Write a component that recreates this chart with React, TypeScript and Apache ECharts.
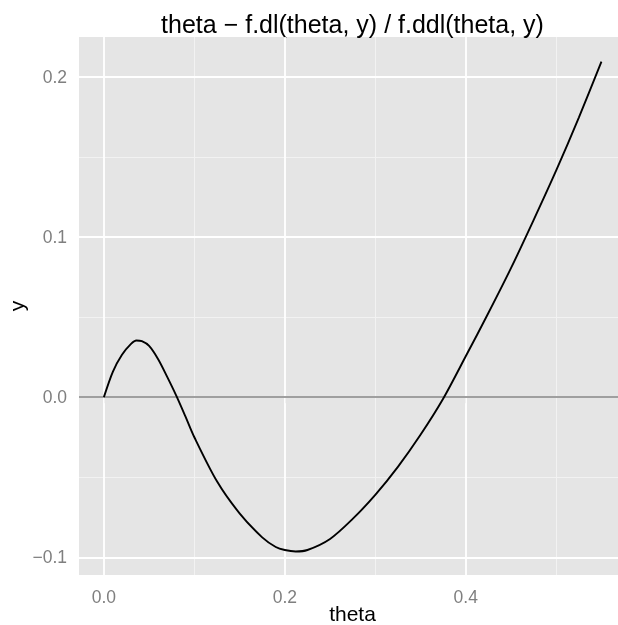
import React, { useEffect, useRef } from "react";
import * as echarts from "echarts";

const thetaValues = [
  0, 0.01, 0.02, 0.03, 0.036, 0.042, 0.05, 0.06, 0.07, 0.08, 0.09, 0.1, 0.125,
  0.15, 0.175, 0.19, 0.2, 0.212, 0.225, 0.25, 0.275, 0.3, 0.325, 0.35, 0.375,
  0.4, 0.425, 0.45, 0.475, 0.5, 0.525, 0.55,
];
const yValues = [
  0, 0.016, 0.0265, 0.0333, 0.0354, 0.0349, 0.032, 0.0237, 0.0127, 0.001,
  -0.0118, -0.025, -0.0525, -0.0725, -0.0875, -0.0935, -0.0954, -0.0963,
  -0.0954, -0.0885, -0.076, -0.061, -0.0435, -0.0235, -0.001, 0.0255, 0.0525,
  0.0805, 0.1105, 0.1415, 0.1745, 0.2094,
];
const xTickValues = [0, 0.2, 0.4];
const xMinorValues = [0.1, 0.3, 0.5];
const yTickValues = [-0.1, 0, 0.1, 0.2];
const yMinorValues = [-0.05, 0.05, 0.15];

const titleText = "theta \u2212 f.dl(theta, y) / f.ddl(theta, y)";
const xTitle = "theta";
const yTitle = "y";

const FONT = "'Liberation Sans', Arial, Helvetica, sans-serif";

const fmt = (v: number) => (v < 0 ? "\u2212" : "") + Math.abs(v).toFixed(1);

export default function App() {
  const ref = useRef<HTMLDivElement>(null);
  useEffect(() => {
    if (!ref.current) return;
    const chart = echarts.init(ref.current, undefined, { renderer: "svg" });
    const minor = { color: "#F2F2F2", width: 1, type: "solid" as const };
    const major = { color: "#FFFFFF", width: 1.8, type: "solid" as const };
    const gridLines = [
      ...xMinorValues.map((v) => ({ xAxis: v, lineStyle: minor })),
      ...yMinorValues.map((v) => ({ yAxis: v, lineStyle: minor })),
      ...xTickValues.map((v) => ({ xAxis: v, lineStyle: major })),
      ...yTickValues.map((v) => ({ yAxis: v, lineStyle: major })),
    ];
    const axisLabelBase = {
      color: "#7F7F7F",
      fontSize: 17.5,
      fontFamily: FONT,
    };
    chart.setOption({
      animation: false,
      grid: {
        left: 79,
        right: 0,
        top: 37,
        bottom: 50,
        show: true,
        backgroundColor: "#E5E5E5",
        borderWidth: 0,
      },
      xAxis: {
        type: "value",
        min: -0.0275,
        max: 0.5683,
        axisLine: { show: false },
        splitLine: { show: false },
        axisTick: {
          show: true,
          length: 6,
          customValues: xTickValues,
          lineStyle: { color: "#7F7F7F", width: 1 },
        },
        axisLabel: {
          ...axisLabelBase,
          margin: 13,
          customValues: xTickValues,
          formatter: fmt,
        },
      },
      yAxis: {
        type: "value",
        min: -0.111,
        max: 0.2248,
        axisLine: { show: false },
        splitLine: { show: false },
        axisTick: {
          show: true,
          length: 6,
          customValues: yTickValues,
          lineStyle: { color: "#7F7F7F", width: 1 },
        },
        axisLabel: {
          ...axisLabelBase,
          margin: 12,
          customValues: yTickValues,
          formatter: fmt,
        },
      },
      graphic: [
        {
          type: "text",
          x: 352.5,
          y: 24,
          style: {
            text: titleText,
            font: `25px ${FONT}`,
            fill: "#000000",
            textAlign: "center",
            textVerticalAlign: "middle",
          },
        },
        {
          type: "text",
          x: 352.5,
          y: 613,
          style: {
            text: xTitle,
            font: `21px ${FONT}`,
            fill: "#000000",
            textAlign: "center",
            textVerticalAlign: "middle",
          },
        },
        {
          type: "text",
          x: 16,
          y: 306,
          rotation: Math.PI / 2,
          style: {
            text: yTitle,
            font: `21px ${FONT}`,
            fill: "#000000",
            textAlign: "center",
            textVerticalAlign: "middle",
          },
        },
      ],
      series: [
        {
          type: "line",
          data: [[0, 0]],
          symbol: "none",
          lineStyle: { width: 0, opacity: 0 },
          silent: true,
          z: 1,
          markLine: {
            silent: true,
            symbol: "none",
            z: 1,
            label: { show: false },
            emphasis: { disabled: true },
            animation: false,
            data: gridLines,
          },
        },
        {
          type: "line",
          data: [[0, 0]],
          symbol: "none",
          lineStyle: { width: 0, opacity: 0 },
          silent: true,
          z: 2,
          markLine: {
            silent: true,
            symbol: "none",
            z: 2,
            label: { show: false },
            emphasis: { disabled: true },
            animation: false,
            data: [
              { yAxis: 0, lineStyle: { color: "#7F7F7F", width: 1.6, type: "solid" } },
            ],
          },
        },
        {
          type: "line",
          data: thetaValues.map((t, i) => [t, yValues[i]]),
          symbol: "none",
          smooth: 0.3,
          lineStyle: { color: "#000000", width: 1.9 },
          silent: true,
          z: 10,
        },
      ],
    });
    return () => chart.dispose();
  }, []);
  return (
    <div
      ref={ref}
      style={{ position: "fixed", left: 0, top: 0, width: 618, height: 625 }}
    />
  );
}
